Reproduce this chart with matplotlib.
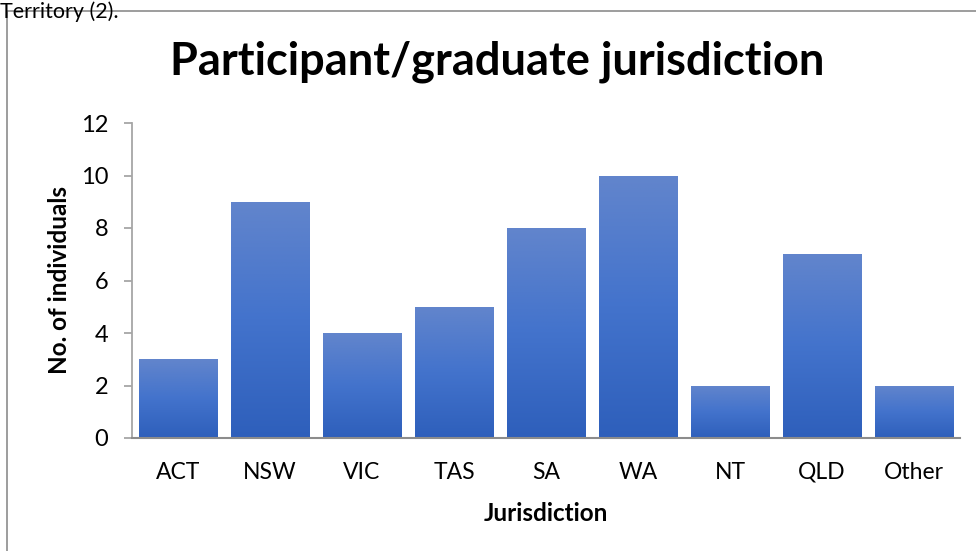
import matplotlib
matplotlib.use("Agg")
import matplotlib.pyplot as plt
import numpy as np
from matplotlib.colors import LinearSegmentedColormap
from matplotlib.patches import Rectangle

categories = ["ACT", "NSW", "VIC", "TAS", "SA", "WA", "NT", "QLD", "Other"]
values = [3, 9, 4, 5, 8, 10, 2, 7, 2]
yticks = [0, 2, 4, 6, 8, 10, 12]

plt.rcParams['font.family'] = ['Lato', 'DejaVu Sans']

fig = plt.figure(figsize=(9.76, 5.51), dpi=100)
W, H = 976, 551
ax = fig.add_axes([132 / W, 1 - 438 / H, (960 - 132) / W, (438 - 123) / H])

x = np.arange(len(categories))
bars = ax.bar(x, values, width=0.85, color='none', edgecolor='none')
cmap = LinearSegmentedColormap.from_list("g", ["#2e5fbb", "#4373cc", "#6285cc"])
grad = np.linspace(0, 1, 256).reshape(-1, 1)
for b in bars:
    x0, y0 = b.get_x(), b.get_y()
    w, h = b.get_width(), b.get_height()
    im = ax.imshow(grad, cmap=cmap, origin='lower', aspect='auto',
                   extent=[x0, x0 + w, y0, y0 + h], zorder=2)
    im.set_clip_path(b)

ax.set_xlim(-0.5, len(categories) - 0.5)
ax.set_ylim(0, 12)
ax.set_yticks(yticks)
ax.set_xticks(x)
ax.set_xticklabels(categories)
for s in ['top', 'right']:
    ax.spines[s].set_visible(False)
ax.spines['left'].set_color('#a6a6a6')
ax.spines['bottom'].set_color('#8c8c8c')
ax.spines['left'].set_linewidth(1.3)
ax.spines['bottom'].set_linewidth(1.5)
ax.tick_params(axis='y', length=6, width=1.3, color='#a6a6a6', labelsize=17, pad=11)
ax.tick_params(axis='x', length=0, labelsize=16.5, pad=17)

ax.set_xlabel("Jurisdiction", fontsize=17.5, fontweight='bold', labelpad=14)
ax.set_ylabel("No. of individuals", fontsize=17.5, fontweight='bold', labelpad=7)

fig.text(497 / W, 1 - 62 / H, "Participant/graduate jurisdiction", fontsize=32.5,
         fontweight='bold', ha='center', va='center')

# chart border
fig.patches.append(Rectangle((7 / W, -0.1), 1.2, (1 - 11 / H) + 0.1,
                             transform=fig.transFigure, fill=False,
                             edgecolor='#8c8c8c', linewidth=1.2, clip_on=False))
# paragraph text above the chart (partly cut in the source)
fig.text(0 / W, 1 - 1 / H, "Territory (2).", fontsize=15.5, ha='left', va='top')

fig.savefig("out.png", dpi=100)
